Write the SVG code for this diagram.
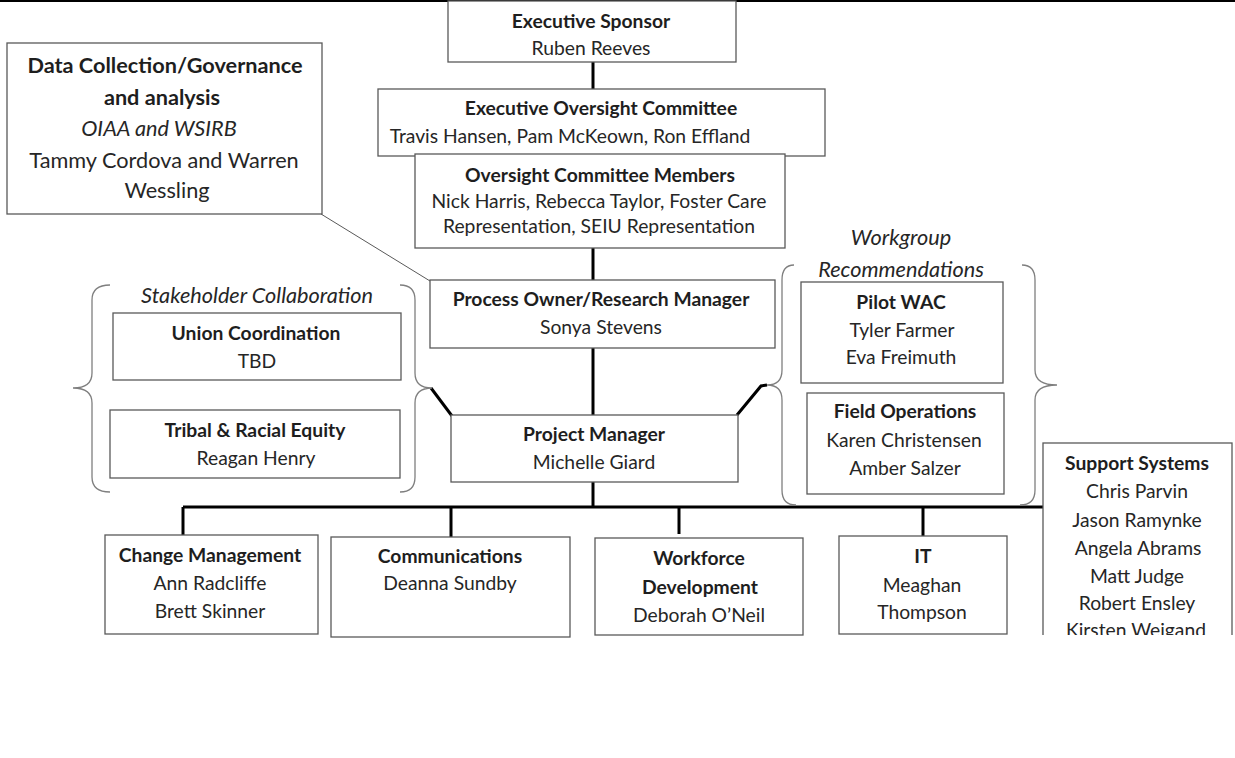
<svg xmlns="http://www.w3.org/2000/svg" width="1235" height="758" viewBox="0 0 1235 758">
<style>
text{font-family:Lato,"Liberation Sans",sans-serif;font-size:19.3px;fill:#262626;text-anchor:middle}
.b{font-weight:bold;fill:#1e1e1e}
.big{font-size:21.7px}
.i{font-style:italic}
.box{fill:#fff;stroke:#595959;stroke-width:1.3}
.con{stroke:#000;stroke-width:3;fill:none}
.thin{stroke:#595959;stroke-width:1;fill:none}
.brace{stroke:#7f7f7f;stroke-width:1.3;fill:none}
</style>
<defs><clipPath id="clipSup"><rect x="1000" y="430" width="235" height="205"/></clipPath></defs>
<rect width="1235" height="758" fill="#fff"/>
<line x1="0" y1="1" x2="1235" y2="1" stroke="#000" stroke-width="2"/>
<g id="connectors">
<line class="thin" x1="321" y1="214" x2="430" y2="281"/>
<line class="con" x1="593" y1="62" x2="593" y2="89"/>
<line class="con" x1="593" y1="248" x2="593" y2="280"/>
<line class="con" x1="593" y1="348" x2="593" y2="415"/>
<line class="con" x1="593" y1="482" x2="593" y2="507"/>
<line class="con" x1="431" y1="388" x2="452" y2="416"/>
<polyline class="con" points="737,415 761,386 767,385"/>
<line class="con" x1="183" y1="507" x2="1043" y2="507"/>
<line class="con" x1="183" y1="507" x2="183" y2="535"/>
<line class="con" x1="451" y1="507" x2="451" y2="537"/>
<line class="con" x1="679" y1="507" x2="679" y2="534"/>
<line class="con" x1="923" y1="507" x2="923" y2="536"/>
</g>
<g id="data-collection">
<rect class="box" x="7" y="43" width="315" height="171"/>
<text class="b big" x="165" y="73">Data Collection/Governance</text>
<text class="b big" x="162" y="105">and analysis</text>
<text class="i big" x="159" y="136">OIAA and WSIRB</text>
<text class="big" x="164" y="168">Tammy Cordova and Warren</text>
<text class="big" x="167" y="198">Wessling</text>
</g>
<g id="executive-sponsor">
<rect class="box" x="448" y="1" width="288" height="61"/>
<text class="b" x="591" y="28">Executive Sponsor</text>
<text x="591" y="55">Ruben Reeves</text>
</g>
<g id="executive-oversight">
<rect class="box" x="378" y="89" width="447" height="67"/>
<text class="b" x="601" y="115">Executive Oversight Committee</text>
<text x="570" y="143">Travis Hansen, Pam McKeown, Ron Effland</text>
</g>
<g id="oversight-members">
<rect class="box" x="415" y="154" width="370" height="94"/>
<text class="b" x="600" y="182">Oversight Committee Members</text>
<text x="599" y="208">Nick Harris, Rebecca Taylor, Foster Care</text>
<text x="599" y="233">Representation, SEIU Representation</text>
</g>
<g id="process-owner">
<rect class="box" x="430" y="280" width="345" height="68"/>
<text class="b" x="601" y="306">Process Owner/Research Manager</text>
<text x="601" y="334">Sonya Stevens</text>
</g>
<g id="project-manager">
<rect class="box" x="451" y="415" width="287" height="67"/>
<text class="b" x="594" y="441">Project Manager</text>
<text x="594" y="469">Michelle Giard</text>
</g>
<g id="stakeholder-collaboration">
<path class="brace" d="M110,285 Q92,285 92,300 L92,373 Q92,388 73,388 Q92,388 92,403 L92,477 Q92,492 110,492"/>
<path class="brace" d="M400,285 Q415,285 415,300 L415,373 Q415,388 432,388 Q415,388 415,403 L415,477 Q415,492 400,492"/>
<text class="i big" x="257" y="303">Stakeholder Collaboration</text>
</g>
<g id="union-coordination">
<rect class="box" x="113" y="313" width="288" height="67"/>
<text class="b" x="256" y="340">Union Coordination</text>
<text x="257" y="368">TBD</text>
</g>
<g id="tribal-racial-equity">
<rect class="box" x="110" y="410" width="290" height="68"/>
<text class="b" x="255" y="437">Tribal &amp; Racial Equity</text>
<text x="256" y="465">Reagan Henry</text>
</g>
<g id="workgroup-recommendations">
<path class="brace" d="M794,265 Q782,265 782,280 L782,370 Q782,385 767,385 Q782,385 782,400 L782,490 Q782,505 796,505"/>
<path class="brace" d="M1022,265 Q1035,265 1035,280 L1035,370 Q1035,385 1057,385 Q1035,385 1035,400 L1035,490 Q1035,505 1020,505"/>
<text class="i big" x="901" y="245">Workgroup</text>
<text class="i big" x="901" y="277">Recommendations</text>
</g>
<g id="pilot-wac">
<rect class="box" x="801" y="282" width="202" height="101"/>
<text class="b" x="901" y="309">Pilot WAC</text>
<text x="902" y="337">Tyler Farmer</text>
<text x="901" y="364">Eva Freimuth</text>
</g>
<g id="field-operations">
<rect class="box" x="807" y="393" width="197" height="101"/>
<text class="b" x="905" y="418">Field Operations</text>
<text x="904" y="447">Karen Christensen</text>
<text x="905" y="475">Amber Salzer</text>
</g>
<g id="change-management">
<rect class="box" x="105" y="535" width="213" height="99"/>
<text class="b" x="210" y="562">Change Management</text>
<text x="210" y="590">Ann Radcliffe</text>
<text x="210" y="618">Brett Skinner</text>
</g>
<g id="communications">
<rect class="box" x="331" y="537" width="239" height="100"/>
<text class="b" x="450" y="563">Communications</text>
<text x="450" y="590">Deanna Sundby</text>
</g>
<g id="workforce-development">
<rect class="box" x="595" y="538" width="208" height="97"/>
<text class="b" x="699" y="565">Workforce</text>
<text class="b" x="700" y="594">Development</text>
<text x="699" y="622">Deborah O’Neil</text>
</g>
<g id="it">
<rect class="box" x="839" y="536" width="168" height="98"/>
<text class="b" x="923" y="563">IT</text>
<text x="922" y="592">Meaghan</text>
<text x="922" y="619">Thompson</text>
</g>
<g id="support-systems" clip-path="url(#clipSup)">
<rect class="box" x="1043" y="443" width="189" height="260"/>
<text class="b" x="1137" y="470">Support Systems</text>
<text x="1137" y="498">Chris Parvin</text>
<text x="1137" y="527">Jason Ramynke</text>
<text x="1138" y="555">Angela Abrams</text>
<text x="1137" y="583">Matt Judge</text>
<text x="1137" y="610">Robert Ensley</text>
<text x="1136" y="637">Kirsten Weigand</text>
</g>
</svg>
